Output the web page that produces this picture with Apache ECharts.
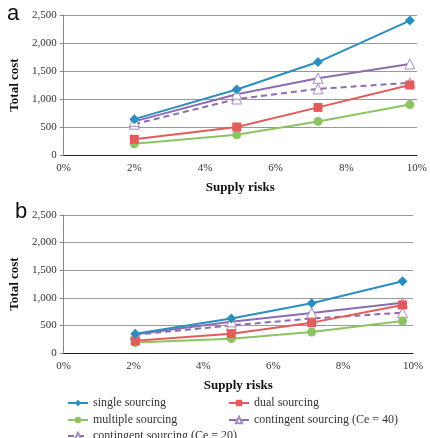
<!DOCTYPE html>
<html><head><meta charset="utf-8">
<script src="https://cdn.jsdelivr.net/npm/echarts@6/dist/echarts.min.js"></script>
<style>html,body{margin:0;padding:0;background:#fff}#c{width:430px;height:438px}</style>
</head><body><div id="c"></div>
<script>
// Panel a
const xA = [2, 4.9, 7.2, 9.8];
const aSingle = [640, 1170, 1660, 2400];
const aDual = [280, 500, 850, 1250];
const aMultiple = [200, 360, 600, 900];
const aCont40 = [600, 1085, 1370, 1625];
const aCont20 = [550, 1000, 1180, 1290];
// Panel b
const xB = [2.05, 4.8, 7.1, 9.7];
const bSingle = [350, 625, 900, 1300];
const bDual = [220, 350, 550, 870];
const bMultiple = [190, 260, 380, 580];
const bCont40 = [340, 565, 725, 910];
const bCont20 = [330, 500, 625, 730];
const seriesNames = ['single sourcing','dual sourcing','multiple sourcing','contingent sourcing (Ce = 40)','contingent sourcing (Ce = 20)'];
const yTicks = [0, 500, 1000, 1500, 2000, 2500];

const colors = ['#2a8fc0','#e35b5b','#8cc463','#8e6cb0','#8e6cb0'];
const symbols = ['diamond','rect','circle','triangle','triangle'];
const sizes = [10,9,9,10,10];
const serif = '"Liberation Serif","DejaVu Serif",serif';

function mk(data, xs, i, gi){
  return {
    name: seriesNames[i], type:'line', xAxisIndex:gi, yAxisIndex:gi,
    data: xs.map((x,k)=>[x,data[k]]),
    symbol: symbols[i], symbolSize: sizes[i],
    lineStyle:{color:colors[i], width:2, type: i===4?[6,4]:'solid'},
    itemStyle: (i>=3)?{color:'#fff', borderColor:'#a58cc4', borderWidth:1}:{color:colors[i]},
    color: colors[i],
    z: 10-i
  };
}
function yAx(gi){
  return {type:'value', gridIndex:gi, min:yTicks[0], max:yTicks[yTicks.length-1], interval:500,
    name:'Total cost', nameLocation:'middle', nameGap:36, nameRotate:90,
    nameTextStyle:{fontFamily:serif, fontWeight:'bold', fontSize:13, color:'#111'},
    axisLine:{show:true, lineStyle:{color:'#888'}},
    axisTick:{show:true, length:4, lineStyle:{color:'#888'}},
    axisLabel:{fontFamily:serif, fontSize:11, color:'#333', margin:7,
      formatter:v=>v.toLocaleString('en-US')},
    splitLine:{lineStyle:{color:'#999'}}};
}
function xAx(gi){
  return {type:'value', gridIndex:gi, min:0, max:10, interval:2,
    name:'Supply risks', nameLocation:'middle', nameGap:26,
    nameTextStyle:{fontFamily:serif, fontWeight:'bold', fontSize:13, color:'#111'},
    axisLine:{show:true, onZero:false, lineStyle:{color:'#222'}},
    axisTick:{show:false},
    axisLabel:{fontFamily:serif, fontSize:11, color:'#333', margin:8, formatter:v=>v+'%'},
    splitLine:{show:false}};
}
const series = [];
[aSingle,aDual,aMultiple,aCont40,aCont20].forEach((d,i)=>series.push(mk(d,xA,i,0)));
[bSingle,bDual,bMultiple,bCont40,bCont20].forEach((d,i)=>series.push(mk(d,xB,i,1)));

function leg(name, left, top){
  return {orient:'horizontal', left:left, top:top, itemWidth:20, itemHeight:8, itemGap:4,
    padding:0, data:[name],
    textStyle:{fontFamily:serif, fontSize:12, color:'#333'}};
}
const chart = echarts.init(document.getElementById('c'), null, {renderer:'canvas'});
chart.setOption({
  animation:false,
  title:[
    {text:'a', left:2, top:-2, textStyle:{fontFamily:'"Liberation Sans",Arial,sans-serif', fontSize:22, fontWeight:'normal', color:'#111'}},
    {text:'b', left:10, top:196, textStyle:{fontFamily:'"Liberation Sans",Arial,sans-serif', fontSize:22, fontWeight:'normal', color:'#111'}}
  ],
  grid:[
    {left:60, right:12, top:15, height:140},
    {left:57, right:17, top:215, height:138}
  ],
  xAxis:[xAx(0), xAx(1)],
  yAxis:[yAx(0), yAx(1)],
  legend:[
    leg(seriesNames[0], 67, 397),
    leg(seriesNames[1], 228, 397),
    leg(seriesNames[2], 67, 414),
    leg(seriesNames[3], 228, 414),
    leg(seriesNames[4], 67, 430)
  ],
  series: series
});
</script></body></html>
